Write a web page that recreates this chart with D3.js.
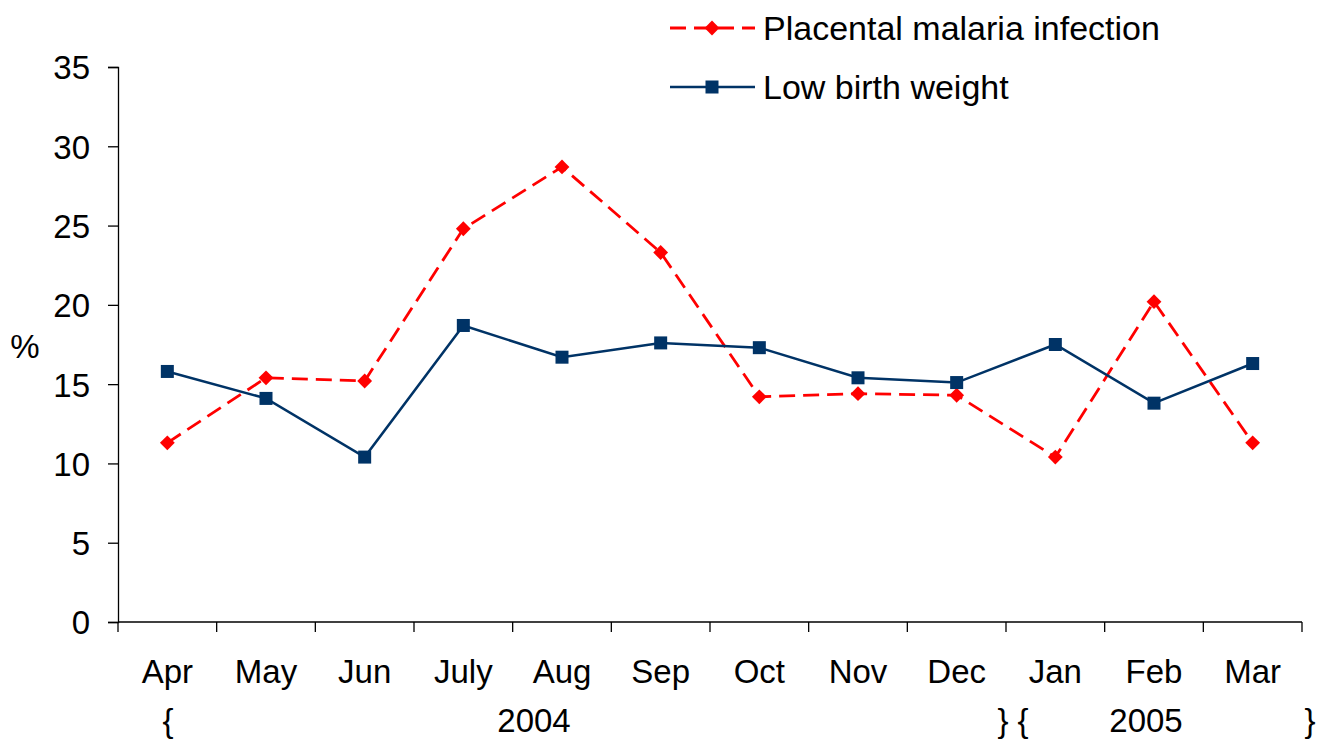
<!DOCTYPE html>
<html>
<head>
<meta charset="utf-8">
<script src="https://cdn.jsdelivr.net/npm/d3@7"></script>
<style>
  body { margin: 0; background: #fff; }
  text { font-family: "Liberation Sans", Arial, sans-serif; fill: #000; }
</style>
</head>
<body>
<div id="chart"></div>
<script>
var months = ["Apr", "May", "Jun", "July", "Aug", "Sep", "Oct", "Nov", "Dec", "Jan", "Feb", "Mar"];
var placental = [11.3, 15.4, 15.2, 24.8, 28.7, 23.3, 14.2, 14.4, 14.3, 10.4, 20.2, 11.3];
var lowBirth = [15.8, 14.1, 10.4, 18.7, 16.7, 17.6, 17.3, 15.4, 15.1, 17.5, 13.8, 16.3];
var yTicks = [0, 5, 10, 15, 20, 25, 30, 35];

var width = 1320, height = 740;
var margin = { top: 67, right: 18, bottom: 118, left: 118 };

var svg = d3
  .select("#chart")
  .append("svg")
  .attr("width", width)
  .attr("height", height);

var x = d3
  .scaleBand()
  .domain(months)
  .range([margin.left, width - margin.right]);

var y = d3
  .scaleLinear()
  .domain([0, 35])
  .range([height - margin.bottom, margin.top]);

var cx = function (d, i) { return x(months[i]) + x.bandwidth() / 2; };

// y axis
var yAxis = svg
  .append("g")
  .attr("transform", "translate(" + margin.left + ",0)")
  .call(d3.axisLeft(y).tickValues(yTicks).tickSize(10).tickPadding(18));
yAxis.select(".domain").attr("stroke", "#000").attr("stroke-width", 1.3);
yAxis.selectAll(".tick line").attr("stroke", "#000").attr("stroke-width", 1.3);
yAxis.selectAll(".tick text")
  .style("font-family", "Liberation Sans, Arial, sans-serif")
  .attr("font-size", "33px")
  .attr("dy", "0.36em")
  .attr("fill", "#000");

// x axis: ticks at band boundaries
var xAxis = svg
  .append("g")
  .attr("transform", "translate(0," + y(0) + ")");
xAxis
  .append("line")
  .attr("x1", margin.left)
  .attr("x2", width - margin.right)
  .attr("stroke", "#000")
  .attr("stroke-width", 1.3);
var bounds = months.map(function (m) { return x(m); }).concat([x(months[months.length - 1]) + x.bandwidth()]);
xAxis
  .selectAll("line.tick")
  .data(bounds)
  .enter()
  .append("line")
  .attr("class", "tick")
  .attr("x1", function (d) { return d; })
  .attr("x2", function (d) { return d; })
  .attr("y1", 0)
  .attr("y2", 10)
  .attr("stroke", "#000")
  .attr("stroke-width", 1.3);
xAxis
  .selectAll("text.month")
  .data(months)
  .enter()
  .append("text")
  .attr("class", "month")
  .attr("x", function (d) { return x(d) + x.bandwidth() / 2; })
  .attr("y", 61)
  .attr("text-anchor", "middle")
  .attr("font-size", "33px")
  .text(function (d) { return d; });

// year row
var yearRow = [
  { t: "{", x: 168 },
  { t: "2004", x: 534 },
  { t: "} {", x: 1013 },
  { t: "2005", x: 1146 },
  { t: "}", x: 1310 }
];
svg
  .selectAll("text.year")
  .data(yearRow)
  .enter()
  .append("text")
  .attr("class", "year")
  .attr("x", function (d) { return d.x; })
  .attr("y", 732)
  .attr("text-anchor", "middle")
  .attr("font-size", "33px")
  .text(function (d) { return d.t; });

// % label
svg
  .append("text")
  .attr("x", 25)
  .attr("y", 358)
  .attr("text-anchor", "middle")
  .attr("font-size", "33px")
  .text("%");

var line = d3
  .line()
  .x(cx)
  .y(function (d) { return y(d); });

// placental malaria (red dashed, diamonds)
svg
  .append("path")
  .datum(placental)
  .attr("d", line)
  .attr("fill", "none")
  .attr("stroke", "#ff0000")
  .attr("stroke-width", 2.8)
  .attr("stroke-dasharray", "16,8");
var diamond = d3.symbol().type(d3.symbolSquare).size(110);
svg
  .selectAll("path.pm")
  .data(placental)
  .enter()
  .append("path")
  .attr("class", "pm")
  .attr("d", diamond)
  .attr("fill", "#ff0000")
  .attr("transform", function (d, i) {
    return "translate(" + cx(d, i) + "," + y(d) + ") rotate(45)";
  });

// low birth weight (navy solid, squares)
svg
  .append("path")
  .datum(lowBirth)
  .attr("d", line)
  .attr("fill", "none")
  .attr("stroke", "#003366")
  .attr("stroke-width", 2.5);
svg
  .selectAll("rect.lbw")
  .data(lowBirth)
  .enter()
  .append("rect")
  .attr("class", "lbw")
  .attr("x", function (d, i) { return cx(d, i) - 6.5; })
  .attr("y", function (d) { return y(d) - 6.5; })
  .attr("width", 13)
  .attr("height", 13)
  .attr("fill", "#003366");

// legend
var legend = svg.append("g");
legend
  .append("line")
  .attr("x1", 670).attr("x2", 755).attr("y1", 28).attr("y2", 28)
  .attr("stroke", "#ff0000")
  .attr("stroke-width", 2.8)
  .attr("stroke-dasharray", "16,8");
legend
  .append("path")
  .attr("d", diamond)
  .attr("fill", "#ff0000")
  .attr("transform", "translate(712,28) rotate(45)");
legend
  .append("text")
  .attr("x", 763).attr("y", 40)
  .attr("font-size", "34px")
  .text("Placental malaria infection");
legend
  .append("line")
  .attr("x1", 670).attr("x2", 755).attr("y1", 87).attr("y2", 87)
  .attr("stroke", "#003366")
  .attr("stroke-width", 2.5);
legend
  .append("rect")
  .attr("x", 705.5).attr("y", 80.5).attr("width", 13).attr("height", 13)
  .attr("fill", "#003366");
legend
  .append("text")
  .attr("x", 763).attr("y", 99)
  .attr("font-size", "34px")
  .text("Low birth weight");
</script>
</body>
</html>
